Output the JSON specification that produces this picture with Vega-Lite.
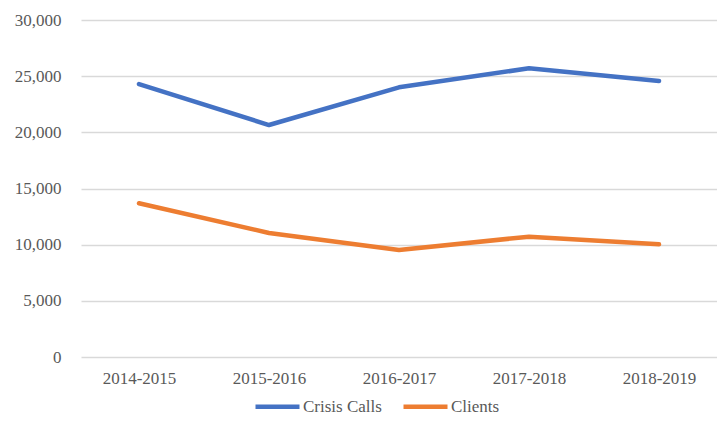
{
  "$schema": "https://vega.github.io/schema/vega-lite/v6.json",
  "width": 636,
  "height": 337,
  "autosize": {"type": "none"},
  "padding": {"left": 81, "top": 20, "right": 0, "bottom": 69},
  "background": "white",
  "config": {
    "view": {"stroke": null},
    "font": "Liberation Serif",
    "axis": {"labelFont": "Liberation Serif", "labelFontSize": 17, "labelColor": "#595959"},
    "legend": {"labelFont": "Liberation Serif", "labelFontSize": 17, "labelColor": "#595959"}
  },
  "data": {
    "values": [
      {"year": "2014-2015", "series": "Crisis Calls", "value": 24300},
      {"year": "2015-2016", "series": "Crisis Calls", "value": 20650},
      {"year": "2016-2017", "series": "Crisis Calls", "value": 24010},
      {"year": "2017-2018", "series": "Crisis Calls", "value": 25700},
      {"year": "2018-2019", "series": "Crisis Calls", "value": 24570},
      {"year": "2014-2015", "series": "Clients", "value": 13690},
      {"year": "2015-2016", "series": "Clients", "value": 11040},
      {"year": "2016-2017", "series": "Clients", "value": 9530},
      {"year": "2017-2018", "series": "Clients", "value": 10710},
      {"year": "2018-2019", "series": "Clients", "value": 10030}
    ]
  },
  "mark": {"type": "line", "strokeWidth": 4.5, "strokeCap": "round", "strokeJoin": "round"},
  "encoding": {
    "x": {
      "field": "year",
      "type": "nominal",
      "sort": null,
      "scale": {"type": "point", "padding": 0.446},
      "axis": {"title": null, "labelAngle": 0, "domain": false, "ticks": false, "labelPadding": 13, "grid": false, "labelFont": "Liberation Serif", "labelFontSize": 17}
    },
    "y": {
      "field": "value",
      "type": "quantitative",
      "scale": {"domain": [0, 30000], "nice": false},
      "axis": {"title": null, "values": [0, 5000, 10000, 15000, 20000, 25000, 30000], "format": ",d", "domain": false, "ticks": false, "labelPadding": 20, "gridColor": "#d9d9d9", "gridWidth": 1.5, "labelFont": "Liberation Serif", "labelFontSize": 17}
    },
    "color": {
      "field": "series",
      "type": "nominal",
      "scale": {"domain": ["Crisis Calls", "Clients"], "range": ["#4472C4", "#ED7D31"]},
      "legend": {"title": null, "orient": "none", "legendX": 172, "legendY": 362, "direction": "horizontal", "symbolType": "stroke", "symbolSize": 1936, "symbolStrokeWidth": 4.5, "labelOffset": 1, "columnPadding": 12, "labelFont": "Liberation Serif", "labelFontSize": 17, "labelColor": "#595959"}
    }
  }
}
